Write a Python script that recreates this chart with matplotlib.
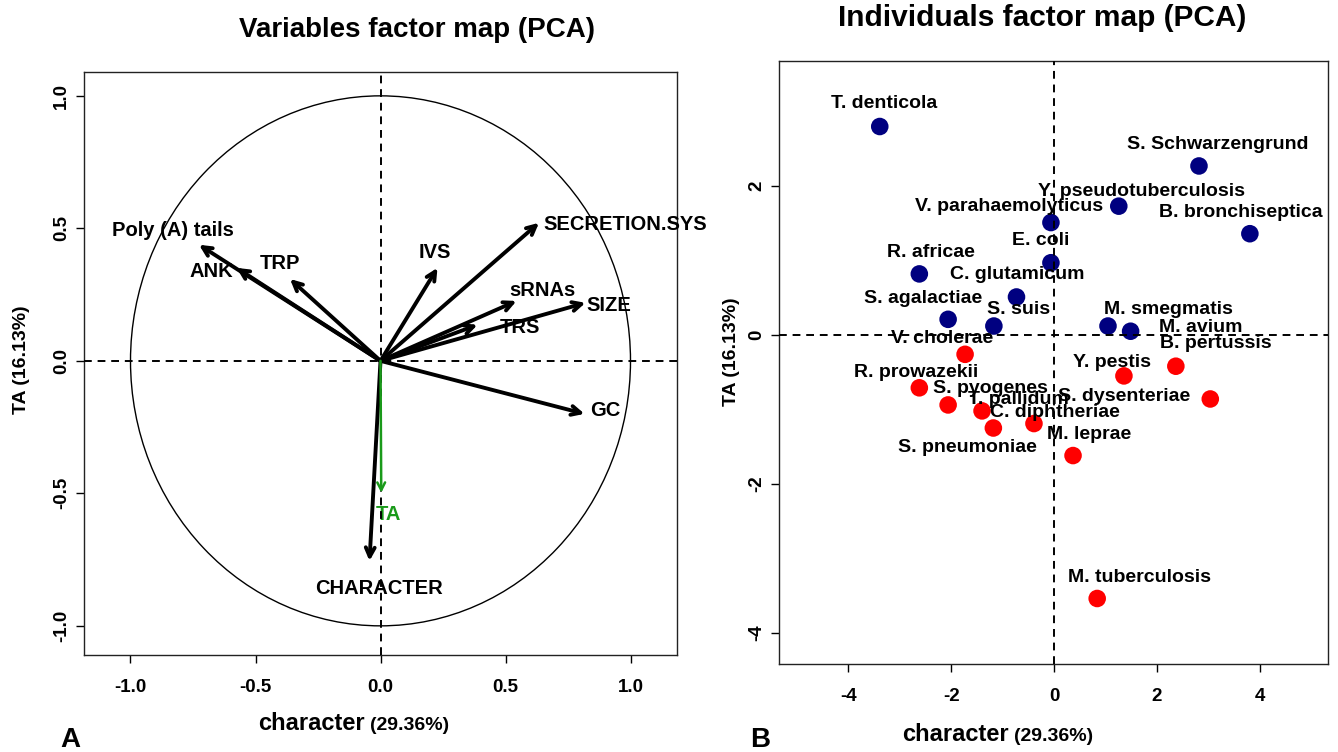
import numpy as np
import matplotlib
matplotlib.use("Agg")
import matplotlib.pyplot as plt
from matplotlib.patches import Ellipse

plt.rcParams['font.family'] = ['Liberation Sans', 'DejaVu Sans']

# ---- variables factor map (panel A) ----
var_names = ["Poly (A) tails", "ANK", "TRP", "IVS", "SECRETION.SYS",
             "sRNAs", "SIZE", "TRS", "GC", "CHARACTER"]
var_x = [-0.726, -0.576, -0.362, 0.228, 0.634, 0.544, 0.820, 0.388, 0.816, -0.044]
var_y = [0.438, 0.351, 0.309, 0.351, 0.521, 0.226, 0.219, 0.136, -0.200, -0.755]
sup_name = "TA"
sup_x, sup_y = 0.003, -0.498

# ---- individuals factor map (panel B) ----
ind_names = ["T. denticola", "S. Schwarzengrund", "Y. pseudotuberculosis",
             "V. parahaemolyticus", "B. bronchiseptica", "E. coli", "R. africae",
             "C. glutamicum", "S. agalactiae", "S. suis", "M. smegmatis", "M. avium",
             "V. cholerae", "B. pertussis", "Y. pestis", "R. prowazekii",
             "S. dysenteriae", "S. pyogenes", "T. pallidum", "C. diphtheriae",
             "S. pneumoniae", "M. leprae", "M. tuberculosis"]
ind_x = [-3.39, 2.82, 1.26, -0.06, 3.81, -0.06, -2.62, -0.73, -2.06, -1.17, 1.05, 1.49,
         -1.73, 2.37, 1.36, -2.62, 3.04, -2.06, -1.40, -0.39, -1.18, 0.37, 0.84]
ind_y = [2.80, 2.27, 1.73, 1.51, 1.36, 0.97, 0.82, 0.51, 0.21, 0.12, 0.12, 0.05,
         -0.26, -0.42, -0.55, -0.71, -0.86, -0.94, -1.02, -1.19, -1.25, -1.62, -3.54]
ind_group = ["blue"] * 12 + ["red"] * 11

# label placement (pixel offsets from the mark, alignment)
var_lab = [(-26, 14, 'center'), (-3, -4, 'right'), (-10, 15, 'center'), (-3, 15, 'center'),
           (4, -2, 'left'), (26, 10, 'center'), (1, -3, 'left'), (22, -3, 'left'),
           (6, 3, 'left'), (9, -28, 'center')]
sup_lab = (7, -22)
ind_lab = [(4, 23), (19, 21), (23, 15), (-42, 16), (-9, 21), (-10, 22), (12, 21), (1, 22),
           (-25, 21), (25, 17), (60, 17), (70, 4), (-23, 16), (40, 23), (-12, 13),
           (-3, 15), (-86, 2), (42, 16), (36, 11), (21, 11), (-26, -19), (16, 21), (42, 21)]

colors = {"blue": "#000080", "red": "#ff0000"}
LAB = 14.5

fig = plt.figure(figsize=(13.38, 7.52), dpi=100)
axA = fig.add_axes([84 / 1338, 97 / 752, 593 / 1338, 583 / 752])
axB = fig.add_axes([779 / 1338, 88 / 752, 549 / 1338, 603 / 752])

for ax in (axA, axB):
    for s in ax.spines.values():
        s.set_linewidth(1.0)
        s.set_color("#222222")
    ax.tick_params(direction='out', length=6, width=1, labelsize=13.5)
    ax.tick_params(axis='x', pad=11)
    ax.tick_params(axis='y', pad=4)
    ax.axhline(0, color='black', ls=(0, (4, 3)), lw=1.4, zorder=4)
    ax.axvline(0, color='black', ls=(0, (4, 3)), lw=1.4, zorder=4)

# panel A
axA.set_xlim(-1.186, 1.186)
axA.set_ylim(-1.11, 1.09)
axA.set_xticks([-1.0, -0.5, 0.0, 0.5, 1.0])
axA.set_yticks([-1.0, -0.5, 0.0, 0.5, 1.0])
axA.set_xticklabels(["-1.0", "-0.5", "0.0", "0.5", "1.0"], fontweight='bold')
axA.set_yticklabels(["-1.0", "-0.5", "0.0", "0.5", "1.0"], fontweight='bold',
                    rotation=90, va='center')
axA.add_patch(Ellipse((0, 0), 2, 2, fill=False, color='black', lw=1.0))
for name, x, y, (dx, dy, ha) in zip(var_names, var_x, var_y, var_lab):
    axA.annotate("", xy=(x, y), xytext=(0, 0),
                 arrowprops=dict(arrowstyle='->,head_length=0.65,head_width=0.32',
                                 lw=2.8, color='black', shrinkA=0, shrinkB=0),
                 zorder=5)
    axA.annotate(name, xy=(x, y), xytext=(dx, dy), textcoords='offset pixels',
                 ha=ha, va='center', fontsize=LAB, fontweight='bold', zorder=6)
axA.annotate("", xy=(sup_x, sup_y), xytext=(0, 0),
             arrowprops=dict(arrowstyle='->,head_length=0.55,head_width=0.28',
                             lw=1.8, color='#1a9a1a', shrinkA=0, shrinkB=0), zorder=5)
axA.annotate(sup_name, xy=(sup_x, sup_y), xytext=sup_lab, textcoords='offset pixels',
             ha='center', va='center', fontsize=LAB, fontweight='bold', color='#1a9a1a')

# panel B
axB.set_xlim(-5.35, 5.33)
axB.set_ylim(-4.42, 3.68)
axB.set_xticks([-4, -2, 0, 2, 4])
axB.set_yticks([-4, -2, 0, 2])
axB.set_xticklabels(["-4", "-2", "0", "2", "4"], fontweight='bold')
axB.set_yticklabels(["-4", "-2", "0", "2"], fontweight='bold', rotation=90, va='center')
axB.scatter(ind_x, ind_y, s=160, c=[colors[g] for g in ind_group], zorder=2,
            edgecolors='none')
for name, x, y, (dx, dy) in zip(ind_names, ind_x, ind_y, ind_lab):
    axB.annotate(name, xy=(x, y), xytext=(dx, dy), textcoords='offset pixels',
                 ha='center', va='center', fontsize=14, fontweight='bold', zorder=3)

# titles and axis labels
fig.text(417 / 1338, 1 - 30 / 752, "Variables factor map (PCA)", ha='center', va='center',
         fontsize=20, fontweight='bold')
fig.text(1042 / 1338, 1 - 18 / 752, "Individuals factor map (PCA)", ha='center',
         va='center', fontsize=21.5, fontweight='bold')


def xlabel(x0, ybase):
    t = fig.text(x0, ybase, "character", ha='left', va='baseline', fontsize=17,
                 fontweight='bold')
    fig.canvas.draw()
    bb = t.get_window_extent()
    fig.text((bb.x1 + 5) / 1338, ybase, "(29.36%)", ha='left', va='baseline',
             fontsize=14, fontweight='bold')


xlabel(258 / 1338, 1 - 730 / 752)
xlabel(902 / 1338, 1 - 741 / 752)
fig.text(22 / 1338, 1 - 360 / 752, "TA (16.13%)", rotation=90, ha='center', va='center',
         fontsize=14, fontweight='bold')
fig.text(731 / 1338, 1 - 352 / 752, "TA (16.13%)", rotation=90, ha='center', va='center',
         fontsize=14, fontweight='bold')
fig.text(70 / 1338, 1 - 740 / 752, "A", ha='center', va='center', fontsize=20,
         fontweight='bold')
fig.text(760 / 1338, 1 - 740 / 752, "B", ha='center', va='center', fontsize=20,
         fontweight='bold')

fig.savefig("out.png", dpi=100)
